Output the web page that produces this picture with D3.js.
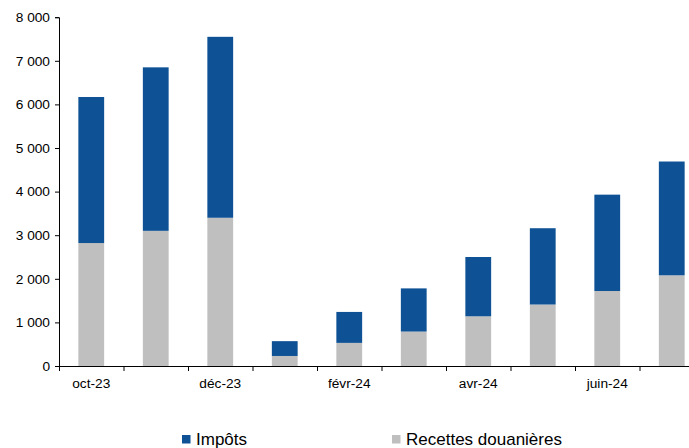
<!DOCTYPE html>
<html lang="fr">
<head>
<meta charset="utf-8">
<title>Impôts et recettes douanières</title>
<style>
  body { margin: 0; background: #fff; }
  svg text { font-family: "Liberation Sans", Arial, sans-serif; fill: #000; }
</style>
</head>
<body>
<script src="https://d3js.org/d3.v7.min.js"></script>
<script>
// Données (lecture du graphique)
const months = ["oct-23", "nov-23", "déc-23", "janv-24", "févr-24", "mars-24", "avr-24", "mai-24", "juin-24", "juil-24"];
const douanes = [2820, 3100, 3400, 230, 530, 790, 1140, 1410, 1720, 2080];
const totals = [6170, 6850, 7550, 570, 1240, 1780, 2500, 3160, 3930, 4690];
const impots = totals.map((t, i) => t - douanes[i]);
const yTicks = [0, 1000, 2000, 3000, 4000, 5000, 6000, 7000, 8000];
const shownLabels = ["oct-23", "déc-23", "févr-24", "avr-24", "juin-24"];

const width = 689, height = 448;
const colImpots = "#0e5295", colDouanes = "#bfbfbf";

const svg = d3.select("body").append("svg")
    .attr("width", width)
    .attr("height", height);

const x = d3.scaleBand()
    .domain(months)
    .range([59, 704])
    .paddingInner(0.6)
    .paddingOuter(0.3);

const y = d3.scaleLinear()
    .domain([0, 8000])
    .range([366, 17.2]);

const rows = months.map((m, i) => ({ mois: m, douanes: douanes[i], impots: impots[i] }));
const stack = d3.stack().keys(["douanes", "impots"])(rows);
const colors = { douanes: colDouanes, impots: colImpots };

svg.append("g")
    .selectAll("g")
    .data(stack)
    .join("g")
    .attr("fill", d => colors[d.key])
    .selectAll("rect")
    .data(d => d)
    .join("rect")
    .attr("x", d => x(d.data.mois))
    .attr("width", x.bandwidth())
    .attr("y", d => y(d[1]))
    .attr("height", d => y(d[0]) - y(d[1]));

// axe Y
const fmt = v => d3.format(",")(v).replace(/,/g, " ");
const yAxis = svg.append("g")
    .attr("transform", "translate(59,0)")
    .call(d3.axisLeft(y).tickValues(yTicks).tickFormat(fmt).tickSize(4).tickPadding(5));
yAxis.select(".domain").attr("stroke", "#000");
yAxis.selectAll("text").style("font-size", "13.7px");

// axe X : graduations aux limites des catégories
const step = x.step();
const x0 = x.range()[0];
const xAxis = svg.append("g");
xAxis.append("line")
    .attr("x1", x0).attr("x2", x.range()[1])
    .attr("y1", 366.5).attr("y2", 366.5)
    .attr("stroke", "#000");
xAxis.selectAll(".tick")
    .data(d3.range(months.length + 1))
    .join("line")
    .attr("x1", i => x0 + i * step + 0.5)
    .attr("x2", i => x0 + i * step + 0.5)
    .attr("y1", 366).attr("y2", 371)
    .attr("stroke", "#000");
xAxis.selectAll("text")
    .data(shownLabels)
    .join("text")
    .attr("x", d => x(d) + x.bandwidth() / 2)
    .attr("y", 388)
    .attr("text-anchor", "middle")
    .style("font-size", "13.7px")
    .text(d => d);

// légende
const legend = [
    { label: "Impôts", color: colImpots, x: 182 },
    { label: "Recettes douanières", color: colDouanes, x: 392 }
];
const lg = svg.append("g").selectAll("g")
    .data(legend)
    .join("g")
    .attr("transform", d => `translate(${d.x},435)`);
lg.append("rect").attr("width", 8.5).attr("height", 8.5).attr("fill", d => d.color);
lg.append("text")
    .attr("x", 14).attr("y", 9.5)
    .style("font-size", "17px")
    .text(d => d.label);
</script>
</body>
</html>
